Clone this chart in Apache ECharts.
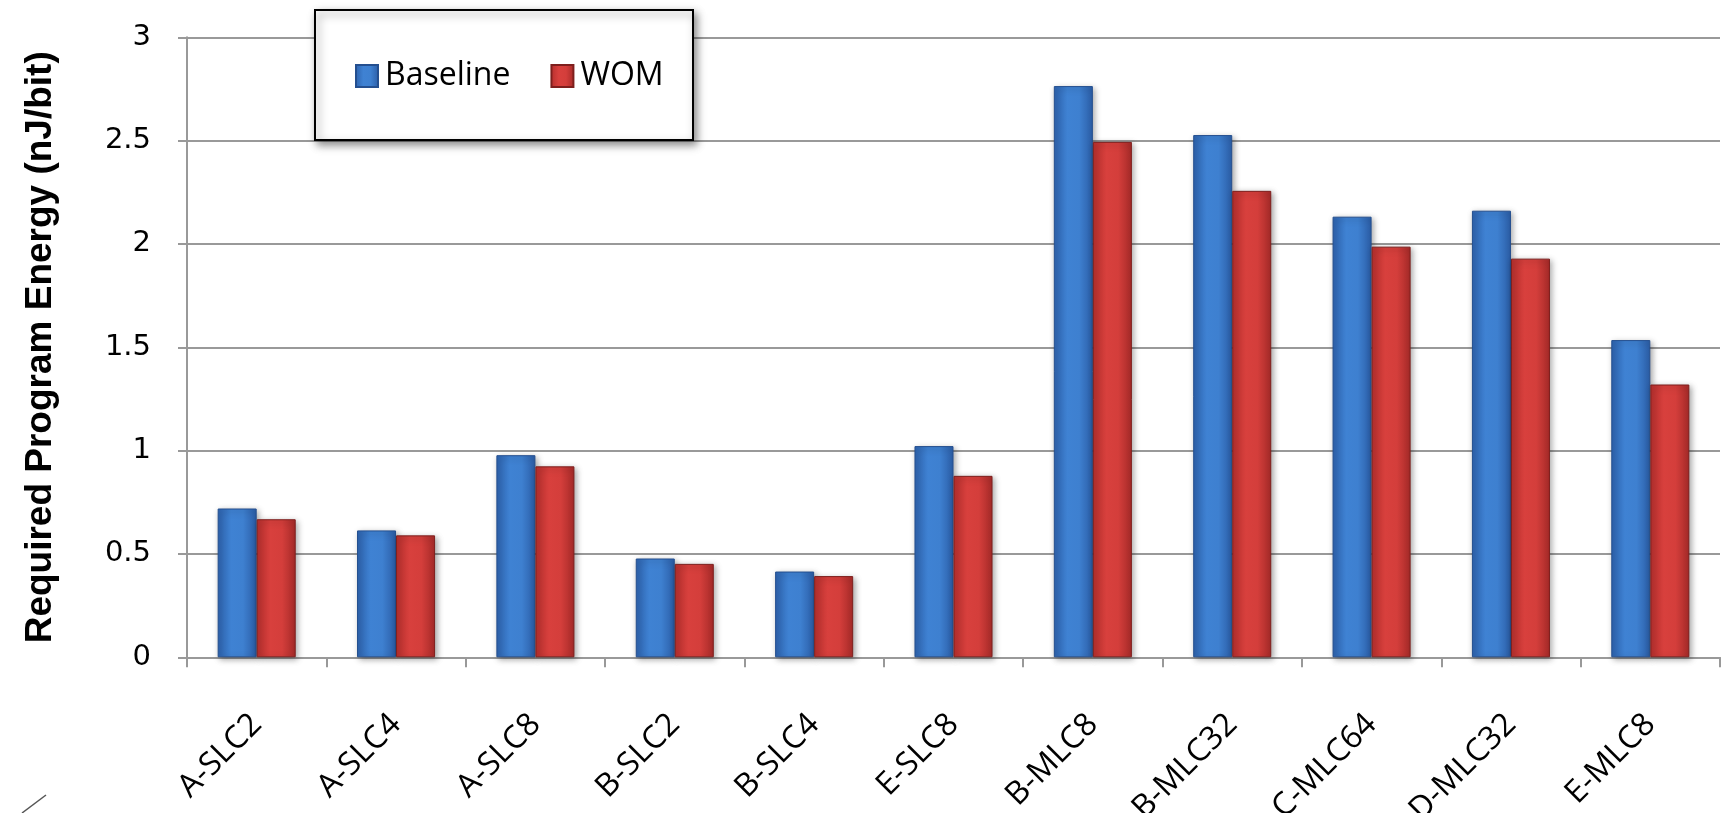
<!DOCTYPE html>
<html><head><meta charset="utf-8">
<script src="https://cdn.jsdelivr.net/npm/echarts@6/dist/echarts.min.js"></script>
<style>html,body{margin:0;padding:0;background:#fff}#c{width:1727px;height:813px}</style>
</head><body><div id="c"></div>
<script>
const categories = ['A-SLC2','A-SLC4','A-SLC8','B-SLC2','B-SLC4','E-SLC8','B-MLC8','B-MLC32','C-MLC64','D-MLC32','E-MLC8'];
const baseline = [0.72, 0.614, 0.978, 0.478, 0.415, 1.022, 2.764, 2.527, 2.132, 2.161, 1.535];
const wom = [0.668, 0.59, 0.924, 0.452, 0.393, 0.878, 2.494, 2.257, 1.987, 1.929, 1.32];
const yTicks = [0, 0.5, 1, 1.5, 2, 2.5, 3];

const blueGrad = new echarts.graphic.LinearGradient(0,0,1,0,[
  {offset:0,color:'#2d62ad'},{offset:0.35,color:'#3f82d3'},{offset:0.65,color:'#3e80d0'},{offset:1,color:'#2b5da6'}]);
const redGrad = new echarts.graphic.LinearGradient(0,0,1,0,[
  {offset:0,color:'#b52f2d'},{offset:0.35,color:'#d8403d'},{offset:0.65,color:'#d43e3b'},{offset:1,color:'#a52a28'}]);

const chart = echarts.init(document.getElementById('c'));
chart.setOption({
  animation:false,
  backgroundColor:'#fff',
  grid:{left:187,right:7,top:37.3,bottom:155.7,containLabel:false,outerBoundsMode:'none'},
  graphic:[
    {type:'rect',left:314,top:9,shape:{width:378,height:130},z:10,
     style:{fill:'#fff',stroke:'#000',lineWidth:2,shadowBlur:8,shadowOffsetX:3,shadowOffsetY:4,shadowColor:'rgba(0,0,0,0.45)'}},
    {type:'line',shape:{x1:22,y1:813,x2:46,y2:795},style:{stroke:'#555',lineWidth:1.5}}
  ],
  legend:{
    left:350, top:55, z:20,
    itemWidth:22, itemHeight:22, itemGap:40,
    icon:'rect',
    textStyle:{fontFamily:'Open Sans',fontSize:32,color:'#000',padding:[0,0,0,2]},
    data:['Baseline','WOM']
  },
  xAxis:{
    type:'category', data:categories,
    axisLine:{lineStyle:{color:'#999',width:2}},
    axisTick:{show:true,length:10,lineStyle:{color:'#999',width:2}},
    axisLabel:{rotate:45,fontFamily:'Open Sans',fontSize:32,color:'#000',margin:62,interval:0}
  },
  yAxis:{
    type:'value', min:0, max:3, interval:0.5,
    name:'Required Program Energy (nJ/bit)', nameLocation:'middle', nameGap:128,
    nameTextStyle:{fontFamily:'Liberation Sans',fontWeight:'bold',fontSize:37,color:'#000'},
    axisLine:{show:true,lineStyle:{color:'#999',width:2}},
    axisTick:{show:true,length:9,lineStyle:{color:'#999',width:2}},
    splitLine:{lineStyle:{color:'#999',width:2}},
    axisLabel:{fontFamily:'DejaVu Sans',fontSize:29,color:'#000',margin:36,
      formatter:function(v){return yTicks.indexOf(v)>=0?String(v):'';}}
  },
  series:[
    {name:'Baseline',type:'bar',data:baseline,barGap:'0%',barCategoryGap:'44%',
     itemStyle:{color:blueGrad,borderColor:'#244f8f',borderWidth:1,shadowBlur:6,shadowOffsetX:2,shadowOffsetY:2,shadowColor:'rgba(0,0,0,0.35)'}},
    {name:'WOM',type:'bar',data:wom,
     itemStyle:{color:redGrad,borderColor:'#7e1f1d',borderWidth:1,shadowBlur:6,shadowOffsetX:2,shadowOffsetY:2,shadowColor:'rgba(0,0,0,0.35)'}}
  ]
});
</script></body></html>
